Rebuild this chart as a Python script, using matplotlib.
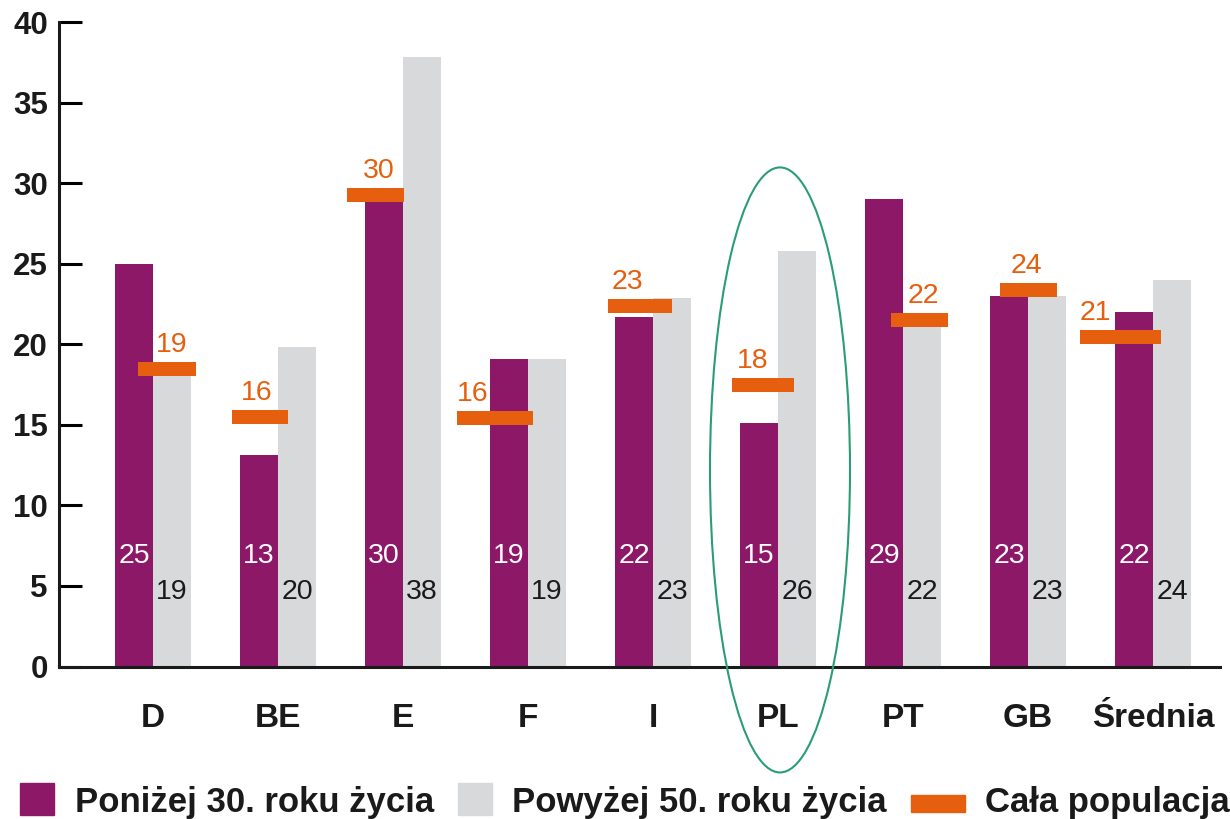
import numpy as np
import matplotlib.pyplot as plt
from matplotlib.patches import Ellipse, Rectangle

# dane
kraje = ['D', 'BE', 'E', 'F', 'I', 'PL', 'PT', 'GB', 'Średnia']
ponizej_30 = [25, 13.1, 29.5, 19.1, 21.7, 15.1, 29.0, 23.0, 22.0]
powyzej_50 = [18.6, 19.8, 37.8, 19.1, 22.9, 25.8, 21.4, 23.0, 24.0]
cala_populacja = [18.45, 15.5, 29.25, 15.4, 22.4, 17.45, 21.5, 23.35, 20.45]

etykiety_30 = ['25', '13', '30', '19', '22', '15', '29', '23', '22']
etykiety_50 = ['19', '20', '38', '19', '23', '26', '22', '23', '24']
etykiety_cala = ['19', '16', '30', '16', '23', '18', '22', '24', '21']

# uklad poziomych kresek (przesuniecia wzgledem srodka grupy)
kreska_lewo = [-0.12, -0.368, -0.448, -0.568, -0.36, -0.368, -0.096, -0.224, -0.584]
kreska_prawo = [0.344, 0.08, 0.008, 0.04, 0.152, 0.128, 0.36, 0.232, 0.064]
napis_x = [0.152, -0.168, -0.192, -0.44, -0.208, -0.2, 0.16, -0.016, -0.464]

fiolet = '#8D1868'
szary = '#D8D9DB'
pomarancz = '#E65F0E'
zielony = '#2A9E72'

plt.rcParams['font.family'] = ['Liberation Sans', 'DejaVu Sans']

fig = plt.figure(figsize=(12.3, 8.19), dpi=100)
ax = fig.add_axes([59 / 1230, 1 - 666.5 / 819, (1220 - 59) / 1230, (666.5 - 22) / 819])

x = np.arange(len(kraje))
w = 0.304
ax.bar(x - w / 2, ponizej_30, w, color=fiolet, zorder=2)
ax.bar(x + w / 2, powyzej_50, w, color=szary, zorder=2)

# cala populacja - poziome kreski
grub = 0.87
lewo = x + np.array(kreska_lewo)
szer = np.array(kreska_prawo) - np.array(kreska_lewo)
ax.bar(lewo, grub, szer, bottom=np.array(cala_populacja) - grub / 2,
       align='edge', color=pomarancz, zorder=3)

for i in range(len(kraje)):
    ax.text(x[i] - w / 2, 6.45, etykiety_30[i], color='white', fontsize=20.5,
            ha='center', va='baseline', zorder=4)
    ax.text(x[i] + w / 2, 4.2, etykiety_50[i], color='#1a1a1a', fontsize=20.5,
            ha='center', va='baseline', zorder=4)
    ax.text(x[i] + napis_x[i], cala_populacja[i] + 1.05, etykiety_cala[i],
            color=pomarancz, fontsize=20.5, ha='center', va='baseline', zorder=4)

# wyroznienie Polski
ax.add_patch(Ellipse((5.016, 12.2), 1.12, 37.55, fill=False, ec=zielony,
                     lw=1.5, clip_on=False, zorder=5))

ax.set_xlim(-0.752, 8.536)
ax.set_ylim(0, 40)
ax.set_yticks(np.arange(0, 41, 5))
ax.set_xticks(x)
ax.set_xticklabels(kraje, fontsize=24, fontweight='bold', color='#1a1a1a')
ax.tick_params(axis='x', length=0, pad=26)
ax.tick_params(axis='y', direction='in', length=16.5, width=2.2, pad=8,
               labelsize=22.5, labelcolor='#1a1a1a')
for t in ax.get_yticklabels():
    t.set_fontweight('bold')
for s in ['top', 'right']:
    ax.spines[s].set_visible(False)
for s in ['left', 'bottom']:
    ax.spines[s].set_linewidth(2.2)
    ax.spines[s].set_color('#1a1a1a')

# legenda
def px(xp, yp):
    return xp / 1230, 1 - yp / 819

fig.patches.append(Rectangle(px(20, 815), 34 / 1230, 32 / 819, color=fiolet,
                             transform=fig.transFigure))
fig.patches.append(Rectangle(px(458, 815), 34 / 1230, 32 / 819, color=szary,
                             transform=fig.transFigure))
fig.patches.append(Rectangle(px(911, 812), 54 / 1230, 17 / 819, color=pomarancz,
                             transform=fig.transFigure))
for xp, txt in [(75, 'Poniżej 30. roku życia'), (512, 'Powyżej 50. roku życia'),
                (985, 'Cała populacja')]:
    fig.text(*px(xp, 812), txt, fontsize=25, fontweight='bold', color='#1a1a1a',
             ha='left', va='baseline')

fig.savefig('out.png', dpi=100)
